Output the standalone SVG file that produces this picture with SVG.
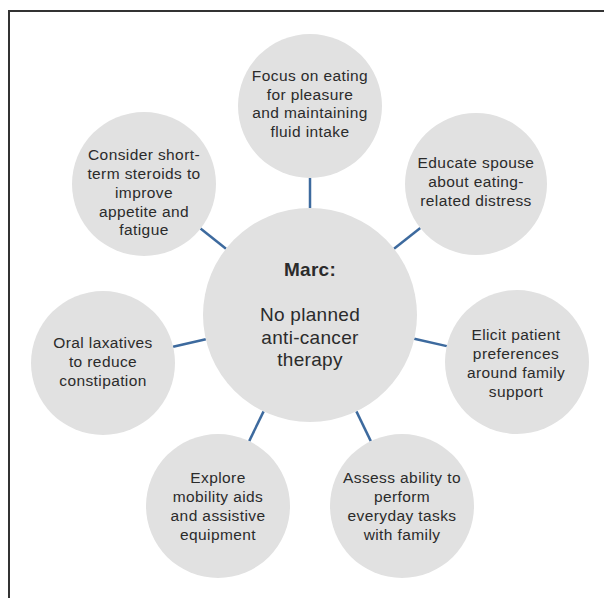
<svg xmlns="http://www.w3.org/2000/svg" width="604" height="598" viewBox="0 0 604 598">
<style>
.frame{fill:none;stroke:#333;stroke-width:2}
.node circle{fill:#e1e1e1}
.node text{font-family:"Liberation Sans",Arial,sans-serif;font-size:15.5px;letter-spacing:0.4px;fill:#2b2b2b;text-anchor:middle}
#center text{font-size:19px;letter-spacing:0.3px}
#center .title{font-weight:bold}
.conn line{stroke:#3d6a9e;stroke-width:2.5}
</style>
<rect width="604" height="598" fill="#fff"/>
<path class="frame" d="M9,598 V11 H604"/>
<g class="conn" id="connectors">
<line x1="310" y1="178" x2="310" y2="208"/>
<line x1="200.5" y1="228.6" x2="226" y2="248.7"/>
<line x1="420.3" y1="228" x2="394" y2="248.7"/>
<line x1="173.1" y1="346.7" x2="205.8" y2="339.2"/>
<line x1="446.8" y1="346.1" x2="414.3" y2="338.7"/>
<line x1="249.2" y1="441.1" x2="263.6" y2="411.4"/>
<line x1="370.8" y1="441.1" x2="356.4" y2="411.4"/>
</g>
<g class="node" id="center">
<circle cx="310" cy="315" r="107"/>
<text x="310" y="276" class="title">Marc:</text>
<text x="310" y="321">No planned</text>
<text x="310" y="343.5">anti-cancer</text>
<text x="310" y="366">therapy</text>
</g>
<g class="node" id="n-top">
<circle cx="310" cy="106" r="72"/>
<text x="310" y="81">Focus on eating</text>
<text x="310" y="99.5">for pleasure</text>
<text x="310" y="118">and maintaining</text>
<text x="310" y="136.5">fluid intake</text>
</g>
<g class="node" id="n-topleft">
<circle cx="144" cy="184" r="72"/>
<text x="144" y="160">Consider short-</text>
<text x="144" y="179">term steroids to</text>
<text x="144" y="197.5">improve</text>
<text x="144" y="216.5">appetite and</text>
<text x="144" y="235">fatigue</text>
</g>
<g class="node" id="n-topright">
<circle cx="476" cy="184" r="71"/>
<text x="476" y="168">Educate spouse</text>
<text x="476" y="187">about eating-</text>
<text x="476" y="206">related distress</text>
</g>
<g class="node" id="n-left">
<circle cx="103" cy="363" r="72"/>
<text x="103" y="348">Oral laxatives</text>
<text x="103" y="367">to reduce</text>
<text x="103" y="386">constipation</text>
</g>
<g class="node" id="n-right">
<circle cx="517" cy="362" r="72"/>
<text x="516" y="340">Elicit patient</text>
<text x="516" y="359">preferences</text>
<text x="516" y="378">around family</text>
<text x="516" y="397">support</text>
</g>
<g class="node" id="n-bottomleft">
<circle cx="218" cy="506" r="72"/>
<text x="218" y="483">Explore</text>
<text x="218" y="502">mobility aids</text>
<text x="218" y="521">and assistive</text>
<text x="218" y="539.5">equipment</text>
</g>
<g class="node" id="n-bottomright">
<circle cx="402" cy="506" r="72"/>
<text x="402" y="483">Assess ability to</text>
<text x="402" y="502">perform</text>
<text x="402" y="521">everyday tasks</text>
<text x="402" y="539.5">with family</text>
</g>
</svg>
